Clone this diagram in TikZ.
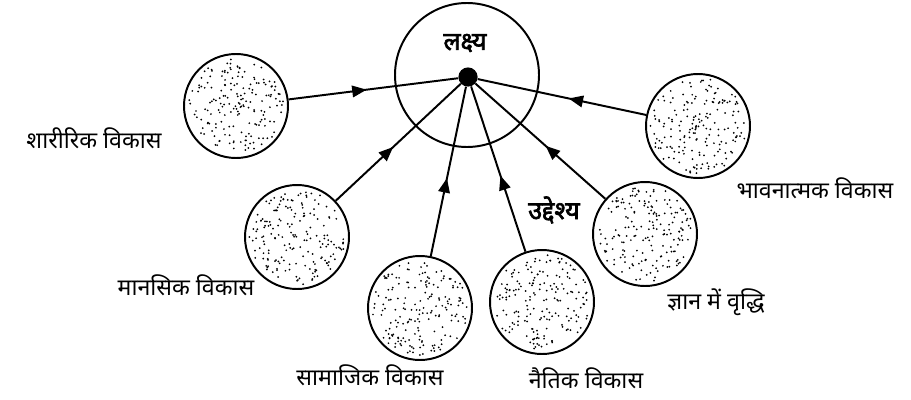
\documentclass[tikz,border=0pt]{standalone}
\usepackage{fontspec}
\setmainfont{Noto Sans}[Script=Devanagari]
\newfontfamily\hindibold{Noto Sans}[Script=Devanagari,FakeBold=2.5]
\usetikzlibrary{arrows.meta,decorations.markings}

\tikzset{
  goal/.style={draw,circle,line width=1.4pt,minimum size=3.6cm,inner sep=0pt},
  hub/.style={fill,circle,minimum size=0.48cm,inner sep=0pt},
  aspect/.style={draw,circle,line width=1.4pt,minimum size=2.6cm,inner sep=0pt},
  feed/.style={line width=1.4pt,postaction={decorate},
    decoration={markings,mark=at position 0.46 with {\arrow{Triangle[length=3.6mm,width=2.9mm]}}}},
  lbl/.style={font=\fontsize{16.5}{18}\selectfont,inner sep=0pt},
  boldlbl/.style={font=\fontsize{18}{20}\selectfont\hindibold,inner sep=0pt},
}

\begin{document}
\begin{tikzpicture}[x=1cm,y=1cm]
\useasboundingbox (0,0) rectangle (22.775,9.975);
\pgfmathsetseed{4321}
% centre
\node[goal] (lakshya) at (11.675,8.1) {};
\node[hub] (kendra) at (11.7,8.05) {};
\node[boldlbl] (lakshyatext) at (11.625,8.9) {लक्ष्य};
% aspects
\node[aspect] (sharirik) at (5.9,7.325) {};
\node[aspect] (mansik) at (7.425,4.05) {};
\node[aspect] (samajik) at (10.5,2.275) {};
\node[aspect] (naitik) at (13.55,2.425) {};
\node[aspect] (gyan) at (16.125,4.125) {};
\node[aspect] (bhavnatmak) at (17.45,6.825) {};
% stipple
\foreach \c in {sharirik,mansik,samajik,naitik,gyan,bhavnatmak}{
  \foreach \i in {1,...,180}{
    \pgfmathsetmacro\rr{1.2*sqrt(rnd)}
    \pgfmathsetmacro\aa{360*rnd}
    \fill (\c.center) ++(\aa:\rr) circle (0.7pt);
  }
  \draw[feed] (\c) -- (kendra);
}
% labels
\node[lbl] (sharirikl) at (2.35,6.525) {शारीरिक विकास};
\node[lbl] (mansikl) at (4.65,2.85) {मानसिक विकास};
\node[lbl] (samajikl) at (9.25,0.6) {सामाजिक विकास};
\node[lbl] (naitikl) at (14.65,0.525) {नैतिक विकास};
\node[lbl] (gyanl) at (17.9,2.425) {ज्ञान में वृद्धि};
\node[lbl] (bhavnatmakl) at (20.375,5.275) {भावनात्मक विकास};
\node[boldlbl] (uddeshya) at (13.85,4.725) {उद्देश्य};
\end{tikzpicture}
\end{document}
